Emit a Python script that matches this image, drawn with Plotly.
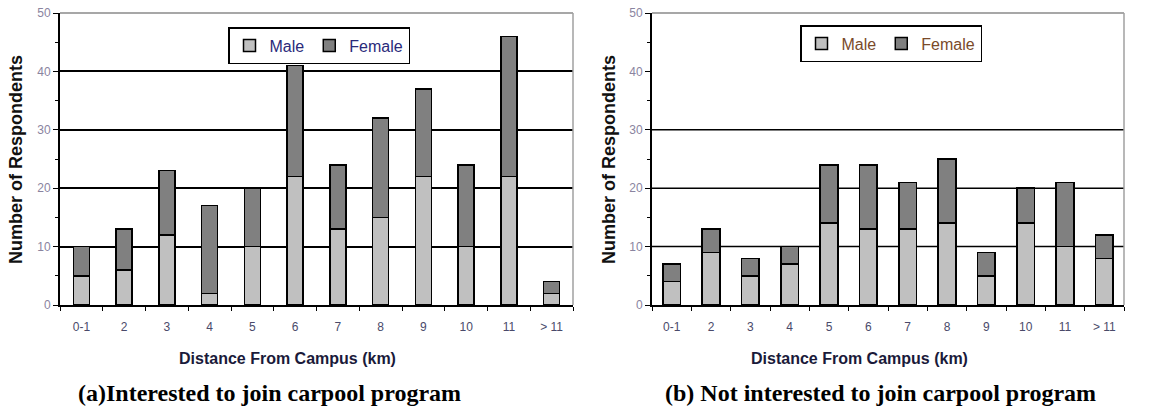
import plotly.graph_objects as go

categories = ["0-1", "2", "3", "4", "5", "6", "7", "8", "9", "10", "11", "> 11"]

# (a) Interested to join carpool program
male_a = [5, 6, 12, 2, 10, 22, 13, 15, 22, 10, 22, 2]
female_a = [5, 7, 11, 15, 10, 19, 11, 17, 15, 14, 24, 2]

# (b) Not interested to join carpool program
male_b = [4, 9, 5, 7, 14, 13, 13, 14, 5, 14, 10, 8]
female_b = [3, 4, 3, 3, 10, 11, 8, 11, 4, 6, 11, 4]

y_ticks = [0, 10, 20, 30, 40, 50]
grid_b = [10, 20, 30]

MALE_COLOR = "#c0c0c0"
FEMALE_COLOR = "#808080"
FONT = "Liberation Sans, Arial, sans-serif"
SERIF = "Liberation Serif, Times New Roman, serif"

fig = go.Figure()

# Left chart
fig.add_trace(go.Bar(x=categories, y=male_a, name="Male", marker=dict(color=MALE_COLOR, line=dict(color="black", width=1.5)),
                     xaxis="x", yaxis="y", legend="legend", width=0.37))
fig.add_trace(go.Bar(x=categories, y=female_a, name="Female", marker=dict(color=FEMALE_COLOR, line=dict(color="black", width=1.5)),
                     xaxis="x", yaxis="y", legend="legend", width=0.37))
# Right chart
fig.add_trace(go.Bar(x=categories, y=male_b, name="Male", marker=dict(color=MALE_COLOR, line=dict(color="black", width=1.5)),
                     xaxis="x2", yaxis="y2", legend="legend2", width=0.45))
fig.add_trace(go.Bar(x=categories, y=female_b, name="Female", marker=dict(color=FEMALE_COLOR, line=dict(color="black", width=1.5)),
                     xaxis="x2", yaxis="y2", legend="legend2", width=0.45))

W, H = 1162, 418
def px_x(p):
    return p / W
def px_y(p):
    return 1 - p / H

xa_common = dict(
    type="category", showline=True, linecolor="black", linewidth=2, automargin=False,
    ticks="outside", tickson="boundaries", ticklen=4, tickcolor="black", tickwidth=1,
    tickfont=dict(family=FONT, size=12, color="#4a4a6a"), ticklabelstandoff=10,
    showgrid=False, zeroline=False, fixedrange=True,
)
ya_common = dict(
    range=[0, 50], tickvals=y_ticks, showline=True, linecolor="black", linewidth=2, automargin=False,
    ticks="outside", ticklen=5, tickcolor="black", ticklabeloverflow="allow",
    minor=dict(ticks="outside", dtick=5, ticklen=3, tickcolor="black", showgrid=False),
    tickfont=dict(family=FONT, size=12, color="#8a84a0"),
    zeroline=False, fixedrange=True,
)

fig.update_layout(
    width=W, height=H,
    margin=dict(l=0, r=0, t=0, b=0, autoexpand=False),
    paper_bgcolor="white", plot_bgcolor="white",
    barmode="stack",
    xaxis=dict(domain=[px_x(60), px_x(573)], anchor="y", **xa_common),
    yaxis=dict(domain=[px_y(305), px_y(13)], anchor="x", showgrid=True, gridcolor="black", gridwidth=1.5, **ya_common),
    xaxis2=dict(domain=[px_x(652), px_x(1124)], anchor="y2", **xa_common),
    yaxis2=dict(domain=[px_y(305), px_y(13)], anchor="x2", showgrid=False, **ya_common),
    legend=dict(x=px_x(228), y=px_y(27), xanchor="left", yanchor="top", orientation="h",
                bordercolor="black", borderwidth=1.5, bgcolor="white",
                font=dict(family=FONT, size=16, color="#2a2a7a"), itemwidth=30, tracegroupgap=0,
                traceorder="normal"),
    legend2=dict(x=px_x(800), y=px_y(25), xanchor="left", yanchor="top", orientation="h",
                 bordercolor="black", borderwidth=1.5, bgcolor="white",
                 font=dict(family=FONT, size=16, color="#7a4a2a"), itemwidth=30, tracegroupgap=0,
                 traceorder="normal"),
    showlegend=True,
)

# Right chart gridlines (no line at 40)
for g in grid_b:
    fig.add_shape(type="line", xref="x2 domain", yref="y2", x0=0, x1=1, y0=g, y1=g,
                  line=dict(color="black", width=1.5), layer="below")

# Plot frame (top and right edges, grey)
for xr, yr in (("x domain", "y domain"), ("x2 domain", "y2 domain")):
    fig.add_shape(type="line", xref=xr, yref=yr, x0=0, x1=1, y0=1, y1=1, line=dict(color="#8a8a8a", width=1.5))
    fig.add_shape(type="line", xref=xr, yref=yr, x0=1, x1=1, y0=0, y1=1, line=dict(color="#a0a0a0", width=1.5))

# Axis titles
for xc in (287, 859):
    fig.add_annotation(text="<b>Distance From Campus (km)</b>", xref="paper", yref="paper",
                       x=px_x(xc), y=px_y(358), xanchor="center", yanchor="middle", showarrow=False,
                       font=dict(family=FONT, size=16, color="#1a1a3a"))
for xc in (16, 609):
    fig.add_annotation(text="<b>Number of Respondents</b>", xref="paper", yref="paper",
                       x=px_x(xc), y=px_y(160), xanchor="center", yanchor="middle", showarrow=False,
                       textangle=-90, font=dict(family=FONT, size=18, color="#111111"))

# Subtitles
fig.add_annotation(text="<b>(a)Interested to join carpool program</b>", xref="paper", yref="paper",
                   x=px_x(269), y=px_y(393), xanchor="center", yanchor="middle", showarrow=False,
                   font=dict(family=SERIF, size=24, color="black"))
fig.add_annotation(text="<b>(b) Not interested to join carpool program</b>", xref="paper", yref="paper",
                   x=px_x(880), y=px_y(393), xanchor="center", yanchor="middle", showarrow=False,
                   font=dict(family=SERIF, size=24, color="black"))

fig.write_html("out.html", config={"displayModeBar": False},
               post_script="document.body.style.margin='0';document.body.style.overflow='hidden';")
